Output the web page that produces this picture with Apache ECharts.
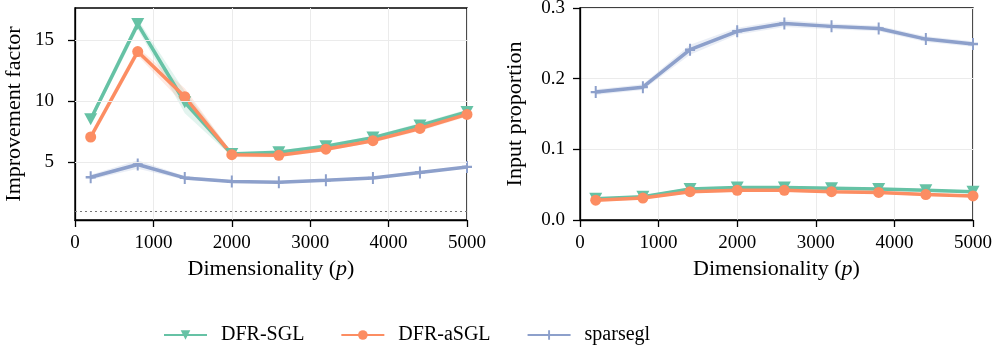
<!DOCTYPE html>
<html>
  <head>
    <meta charset="UTF-8">
    <title>Improvement factor / Input proportion</title>
    <script src="https://cdn.jsdelivr.net/npm/echarts@6/dist/echarts.min.js"></script>
  </head>
  <body style="margin:0">
    <div id="box" style="width:997px;height:358px"></div>
    <script>
        // dimensionality p
        var dims = [200, 800, 1400, 2000, 2600, 3200, 3800, 4400, 5000];

        // left panel: improvement factor
        var sglImp    = [8.5, 16.3, 9.9, 5.65, 5.8, 6.3, 7.0, 8.0, 9.1];
        var asglImp   = [7.05, 14.05, 10.35, 5.6, 5.55, 6.05, 6.75, 7.75, 8.9];
        var sparseImp = [3.75, 4.8, 3.7, 3.4, 3.35, 3.5, 3.7, 4.15, 4.6];
        var sglImpErr    = [0.3, 0.4, 0.9, 0.2, 0.15, 0.15, 0.15, 0.2, 0.2];
        var asglImpErr   = [0.3, 0.35, 0.7, 0.2, 0.15, 0.15, 0.15, 0.2, 0.2];
        var sparseImpErr = [0.2, 0.35, 0.15, 0.1, 0.1, 0.1, 0.1, 0.1, 0.1];

        // right panel: input proportion
        var sglProp    = [0.030, 0.033, 0.044, 0.046, 0.046, 0.045, 0.044, 0.042, 0.040];
        var asglProp   = [0.028, 0.031, 0.040, 0.042, 0.042, 0.040, 0.039, 0.036, 0.034];
        var sparseProp = [0.181, 0.188, 0.241, 0.267, 0.278, 0.274, 0.271, 0.256, 0.249];
        var sglPropErr    = [0.002, 0.002, 0.002, 0.002, 0.002, 0.002, 0.002, 0.002, 0.002];
        var asglPropErr   = [0.002, 0.002, 0.002, 0.002, 0.002, 0.002, 0.002, 0.002, 0.002];
        var sparsePropErr = [0.004, 0.004, 0.007, 0.005, 0.005, 0.004, 0.004, 0.004, 0.004];

        var impTicks = [5, 10, 15];

        var names  = ['DFR-SGL', 'DFR-aSGL', 'sparsegl'];
        var colors = ['#66c2a5', '#fc8d62', '#8da0cb'];
        var fadeColors = ['rgba(102,194,165,0.18)', 'rgba(252,141,98,0.18)', 'rgba(141,160,203,0.18)'];
        var symbols = ['path://M0,0L10,0L5,9Z', 'circle', 'path://M4,0H6V10H4Z M0,4H10V6H0Z'];
        var symbolSizes = [[13, 12], 11, [10, 12]];

        var font = "'Liberation Serif', serif";

        function pairs(xs, ys) {
            return xs.map(function (x, i) { return [x, ys[i]]; });
        }

        // shaded band drawn as one polygon through the axis scales
        function band(k, panel, ys, err) {
            return {
                name: names[k] + '_band' + panel, type: 'custom', xAxisIndex: panel, yAxisIndex: panel,
                data: pairs(dims, ys), encode: {x: 0, y: 1}, silent: true, z: 1,
                renderItem: function (params, api) {
                    if (params.dataIndex !== 0) return;
                    var pts = [];
                    for (var i = 0; i < dims.length; i++) pts.push(api.coord([dims[i], ys[i] + err[i]]));
                    for (var j = dims.length - 1; j >= 0; j--) pts.push(api.coord([dims[j], ys[j] - err[j]]));
                    return {type: 'polygon', shape: {points: pts}, style: {fill: fadeColors[k]}};
                }
            };
        }

        function main(k, panel, ys) {
            return {
                name: names[k], type: 'line', xAxisIndex: panel, yAxisIndex: panel,
                data: pairs(dims, ys), color: colors[k],
                symbol: symbols[k], symbolSize: symbolSizes[k],
                lineStyle: {width: 3.5, color: colors[k]},
                itemStyle: {color: colors[k]}, z: 3
            };
        }

        var series = [];
        // gridlines for left y axis (ticks not at multiples of min), plus y=1 reference
        series.push({
            name: 'grid0', type: 'line', xAxisIndex: 0, yAxisIndex: 0, data: [], silent: true, z: 0,
            markLine: {
                silent: true, symbol: 'none', label: {show: false},
                lineStyle: {color: '#ebebeb', width: 1, type: 'solid'},
                data: impTicks.map(function (v) { return {yAxis: v}; })
            }
        });
        series.push({
            name: 'ref0', type: 'line', xAxisIndex: 0, yAxisIndex: 0, data: [], silent: true,
            markLine: {
                silent: true, symbol: 'none', label: {show: false},
                lineStyle: {color: '#777', width: 1.2, type: [2, 3]},
                data: [{yAxis: 1}]
            }
        });

        var impData = [[sglImp, sglImpErr], [asglImp, asglImpErr], [sparseImp, sparseImpErr]];
        var propData = [[sglProp, sglPropErr], [asglProp, asglPropErr], [sparseProp, sparsePropErr]];
        [0, 1, 2].forEach(function (k) {
            series.push(band(k, 0, impData[k][0], impData[k][1]));
            series.push(band(k, 1, propData[k][0], propData[k][1]));
        });
        [0, 1, 2].forEach(function (k) {
            series.push(main(k, 0, impData[k][0]));
            series.push(main(k, 1, propData[k][0]));
        });

        function xAxis(gi) {
            return {
                type: 'value', gridIndex: gi, min: 0, max: 5000, interval: 1000,
                name: 'Dimensionality ({i|p})', nameLocation: 'middle', nameGap: 38,
                nameTextStyle: {fontFamily: font, fontSize: 22, color: '#000',
                    rich: {i: {fontFamily: font, fontStyle: 'italic', fontSize: 22, color: '#000'}}},
                axisLine: {lineStyle: {color: '#000', width: 1.3}},
                axisTick: {length: 7, lineStyle: {color: '#000', width: 1.3}},
                axisLabel: {fontFamily: font, fontSize: 19, color: '#000', margin: 14,
                    formatter: function (v) { return String(v); }},
                splitLine: {show: true, lineStyle: {color: '#ebebeb', width: 1}}
            };
        }

        var myChart = echarts.init(document.getElementById('box'));
        myChart.setOption({
            animation: false,
            textStyle: {fontFamily: font},
            grid: [
                {left: 75, right: 530, top: 8, bottom: 138, show: true, backgroundColor: 'transparent',
                    borderColor: '#000', borderWidth: 1.4, outerBoundsMode: 'none', containLabel: false},
                {left: 580, right: 24, top: 8, bottom: 138, show: true, backgroundColor: 'transparent',
                    borderColor: '#000', borderWidth: 1.4, outerBoundsMode: 'none', containLabel: false}
            ],
            legend: {
                data: names, left: 158, top: 320, itemWidth: 43, itemHeight: 12, itemGap: 36,
                textStyle: {fontFamily: font, fontSize: 20, color: '#000', padding: [0, 0, 0, 9]}
            },
            xAxis: [xAxis(0), xAxis(1)],
            yAxis: [{
                type: 'value', gridIndex: 0, min: 0.25, max: 17.62,
                name: 'Improvement factor', nameLocation: 'middle', nameGap: 50,
                nameTextStyle: {fontFamily: font, fontSize: 22, color: '#000'},
                axisLine: {show: true, lineStyle: {color: '#000', width: 1.3}},
                axisTick: {show: true, length: 7, customValues: impTicks, lineStyle: {color: '#000', width: 1.3}},
                axisLabel: {fontFamily: font, fontSize: 19, color: '#000', margin: 21, customValues: impTicks},
                splitLine: {show: false}
            }, {
                type: 'value', gridIndex: 1, min: 0, max: 0.3, interval: 0.1,
                name: 'Input proportion', nameLocation: 'middle', nameGap: 54,
                nameTextStyle: {fontFamily: font, fontSize: 22, color: '#000'},
                axisLine: {show: true, lineStyle: {color: '#000', width: 1.3}},
                axisTick: {show: true, length: 7, lineStyle: {color: '#000', width: 1.3}},
                axisLabel: {fontFamily: font, fontSize: 19, color: '#000', margin: 15,
                    formatter: function (v) { return v.toFixed(1); }},
                splitLine: {show: true, lineStyle: {color: '#ebebeb', width: 1}}
            }],
            series: series
        });
    </script>
  </body>
</html>
